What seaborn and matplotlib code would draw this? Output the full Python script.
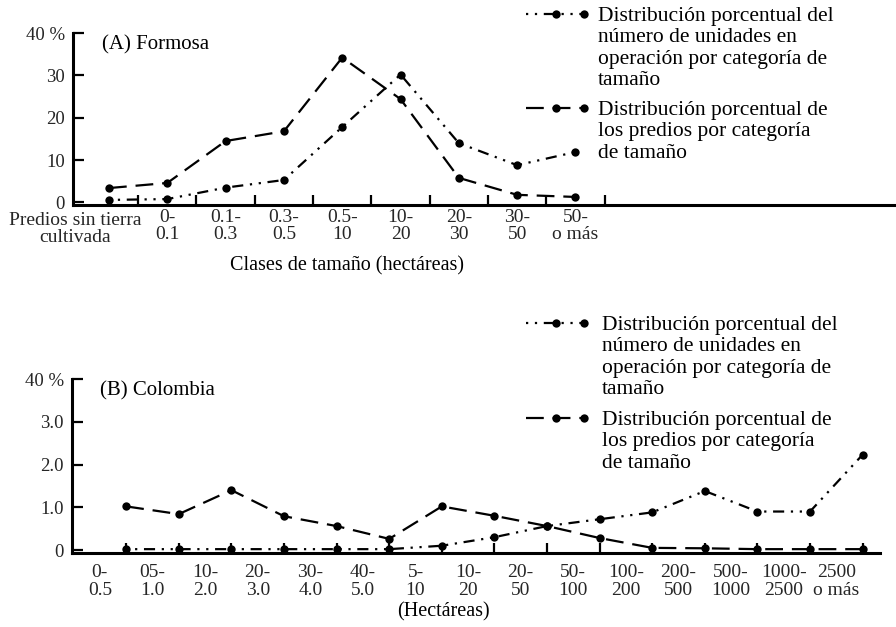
import numpy as np
import pandas as pd
import matplotlib
matplotlib.use("Agg")
import matplotlib.pyplot as plt
import matplotlib.transforms as mtransforms
from matplotlib.lines import Line2D
import seaborn as sns

# (A) Formosa
formosa_clases = ["Predios sin tierra\ncultivada", "0-\n0.1", "0.1-\n0.3", "0.3-\n0.5", "0.5-\n10",
                  "10-\n20", "20-\n30", "30-\n50", "50-\no más"]
formosa_unidades = [0.6, 0.8, 3.5, 5.3, 17.8, 30.2, 14.0, 8.8, 11.9]
formosa_predios = [3.4, 4.6, 14.5, 16.8, 34.2, 24.4, 5.8, 1.8, 1.3]
formosa_yticks = [0, 10, 20, 30, 40]
formosa_ylabels = ["0", "10", "20", "30", "40 %"]

# (B) Colombia
colombia_clases = ["0-\n0.5", "05-\n1.0", "10-\n2.0", "20-\n3.0", "30-\n4.0", "40-\n5.0", "5-\n10",
                   "10-\n20", "20-\n50", "50-\n100", "100-\n200", "200-\n500", "500-\n1000",
                   "1000-\n2500", "2500\no más"]
colombia_unidades = [0.02, 0.02, 0.02, 0.02, 0.02, 0.02, 0.10, 0.30, 0.56, 0.72, 0.88, 1.38, 0.90, 0.90, 2.23]
colombia_predios = [1.02, 0.84, 1.40, 0.79, 0.56, 0.26, 1.02, 0.80, 0.56, 0.28, 0.05, 0.04, 0.02, 0.02, 0.02]
colombia_yticks = [0, 1, 2, 3, 4]
colombia_ylabels = ["0", "1.0", "2.0", "3.0", "40 %"]

texto_unidades = "Distribución porcentual del\nnúmero de unidades en\noperación por categoría de\ntamaño"
texto_predios = "Distribución porcentual de\nlos predios por categoría\nde tamaño"

sns.set_style("ticks")
plt.rcParams['font.family'] = ['Liberation Serif', 'DejaVu Serif']
plt.rcParams['text.color'] = 'black'

W, H = 896, 627
fig = plt.figure(figsize=(W / 100, H / 100), dpi=100)

estilos = {"unidades": (1, 3, 1, 3, 5, 3), "predios": (8, 4)}
marcas = {"unidades": "o", "predios": "o"}
LW = 1.6


def frac(x0, y0, x1, y1):
    return [x0 / W, 1 - y1 / H, (x1 - x0) / W, (y1 - y0) / H]


def panel(ax, clases, unidades, predios, desplaza, yticks, ylabels, titulo):
    pos = np.arange(len(clases)) + desplaza
    df = pd.concat([
        pd.DataFrame({"x": pos, "valor": unidades, "serie": "unidades"}),
        pd.DataFrame({"x": pos, "valor": predios, "serie": "predios"}),
    ], ignore_index=True)
    sns.lineplot(data=df, x="x", y="valor", style="serie", dashes=estilos, markers=marcas,
                 color="black", linewidth=LW, markersize=6, markeredgewidth=0,
                 legend=False, ax=ax)
    sns.despine(ax=ax)
    for s in ["left", "bottom"]:
        ax.spines[s].set_linewidth(2.2)
        ax.spines[s].set_color("black")
    ax.set_xticks(np.arange(len(clases)), labels=clases)
    ax.set_xticks(np.arange(len(clases)) + 0.5, minor=True)
    ax.tick_params(axis="x", which="major", length=0, pad=4, labelsize=14)
    ax.tick_params(axis="x", which="minor", direction="in", length=7, width=1.6, color="black")
    ax.set_yticks(yticks, labels=ylabels)
    ax.tick_params(axis="y", direction="in", length=8, width=1.6, color="black", pad=6, labelsize=13.5)
    ax.set_xlabel("")
    ax.set_ylabel("")
    ax.text(0.035, 0.985, titulo, transform=ax.transAxes, fontsize=15, va="top", ha="left")
    ax.set_facecolor("white")


# panel superior
ax1 = fig.add_axes(frac(73, 33, 895, 205))
panel(ax1, formosa_clases, formosa_unidades, formosa_predios, 0.0,
      formosa_yticks, formosa_ylabels, "(A) Formosa")
ax1.set_xlim(-0.617, 13.48)
ax1.set_ylim(-0.6, 40)
ax1.tick_params(axis="x", which="major", pad=3)
fig.text(347 / W, 1 - 266 / H, "Clases de tamaño (hectáreas)", fontsize=14.5, ha="center", va="center")

# panel inferior
ax2 = fig.add_axes(frac(72, 379, 880, 553))
panel(ax2, colombia_clases, colombia_unidades, colombia_predios, 0.5,
      colombia_yticks, colombia_ylabels, "(B) Colombia")
ax2.set_xlim(-0.53, 14.83)
ax2.set_ylim(-0.07, 4.0)
ax2.tick_params(axis="x", which="major", pad=8)
fig.text(443 / W, 1 - 612 / H, "(Hectáreas)", fontsize=14.5, ha="center", va="center")

# interlineado de las etiquetas, una vez fijados los limites
for ax, esp in [(ax1, 0.95), (ax2, 1.1)]:
    for t in ax.get_xticklabels():
        t.set_linespacing(esp)
lbl = ax1.get_xticklabels()[0]
lbl.set_transform(lbl.get_transform() + mtransforms.ScaledTranslation(-0.34, -0.03, fig.dpi_scale_trans))


# leyendas
def leyenda(x_txt, y_txt, x_lin, y_lin):
    for k, (serie, texto) in enumerate([("unidades", texto_unidades), ("predios", texto_predios)]):
        fig.text(x_txt / W, 1 - (y_txt[k] - 7) / H, texto, fontsize=15.5, ha="left", va="top",
                 linespacing=1.17)
        xs = np.array([x_lin, x_lin + 30, x_lin + 58]) / W
        ys = np.full(3, 1 - y_lin[k] / H)
        fig.add_artist(Line2D(xs, ys, transform=fig.transFigure, color="black", lw=LW,
                              dashes=estilos[serie], marker="o", markersize=6,
                              markeredgewidth=0, markevery=[1, 2]))


leyenda(598, [14, 108], 526, [14, 108])
leyenda(602, [323, 418], 526, [323, 418])

fig.savefig("out.png", dpi=100, facecolor="white")
